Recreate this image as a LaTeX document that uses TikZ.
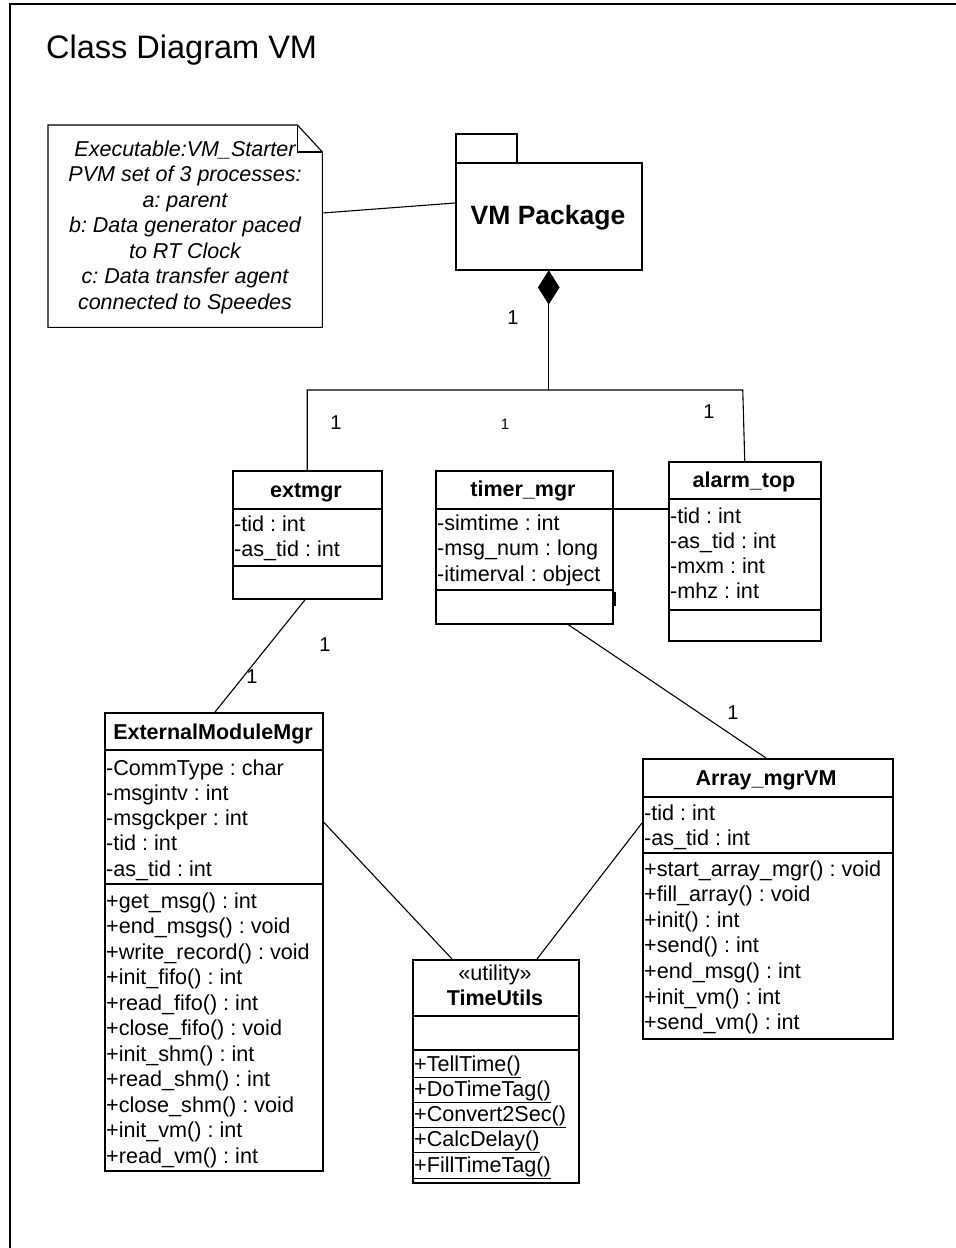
\documentclass[tikz,border=0pt]{standalone}
\usepackage{fontspec}
\setmainfont{Liberation Sans}
\usetikzlibrary{shapes.geometric,calc}
\frenchspacing

\tikzset{
  cls/.style={draw, line width=1.5pt, inner sep=0pt, anchor=north west},
  sep/.style={line width=1.3pt},
  ttl/.style={font=\fontsize{21.5}{24}\selectfont\bfseries, inner sep=0pt, anchor=base},
  mem/.style={font=\fontsize{21.6}{24}\selectfont, anchor=base west, inner sep=0pt},
  link/.style={line width=1.1pt},
  mult/.style={font=\fontsize{20}{22}\selectfont, inner sep=0pt},
}

% horizontal compartment rule inside a class box, #2 below its top edge
\newcommand\umlrule[2]{\draw[sep] ($(#1.north west)+(0,#2)$) -- ($(#1.north east)+(0,#2)$);}
% list of members: prefix, x, first baseline, line step, entries
\newcommand\umlmembers[5]{%
  \foreach \t [count=\i] in {#5}
    \node[mem] (#1-\i) at (#2, {#3+(\i-1)*#4}) {\t};}
% static operations are underlined
\newcommand\static[1]{\underline{#1}}

\begin{document}
\begin{tikzpicture}[x=1pt,y=-1pt]
\useasboundingbox (0,0) rectangle (956,1248);

% frame
\draw[line width=2pt] (10,1248) -- (10,4) -- (956,4);
\node[font=\fontsize{32.5}{36}\selectfont, anchor=base west, inner sep=0pt] (title) at (46,58) {Class Diagram VM};

% note
\node[inner sep=0pt, minimum width=274pt, minimum height=202pt, anchor=north west] (note) at (48,125) {};
\draw[line width=1.1pt] (note.north west) -- ($(note.north east)+(-25,0)$) -- ($(note.north east)+(0,27)$)
  -- (note.south east) -- (note.south west) -- cycle;
\draw[line width=1.1pt] ($(note.north east)+(-25,0)$) -- ($(note.north east)+(-25,27)$) -- ($(note.north east)+(0,27)$);
\node[align=center, inner sep=0pt, font=\fontsize{21.5}{25.5}\selectfont\itshape] (notetext) at (185,227)
  {Executable:VM\_Starter\\PVM set of 3 processes:\\a: parent\\b: Data generator paced\\to RT Clock\\c: Data transfer agent\\connected to Speedes};

% package
\node[cls, minimum width=61pt, minimum height=29pt] (pkgtab) at (455,133) {};
\node[cls, minimum width=186pt, minimum height=107pt] (pkg) at (455,162) {};
\node[font=\fontsize{26.5}{30}\selectfont\bfseries, inner sep=0pt, anchor=base] (pkgname) at (548,224) {VM Package};
\node[diamond, fill, draw, line width=0.8pt, minimum width=21pt, minimum height=33pt, inner sep=0pt, anchor=north] (dia) at (pkg.south) {};

% classes
\node[cls, minimum width=149pt, minimum height=128pt] (extmgr) at (232,470) {};
\umlrule{extmgr}{39}\umlrule{extmgr}{96}
\node[ttl] (extmgr-t) at (306,497) {extmgr};
\umlmembers{extmgr}{234}{531}{25.3}{{-tid : int},{-as\_tid : int}}

\node[cls, minimum width=177pt, minimum height=153pt] (timer) at (435,470) {};
\umlrule{timer}{39}\umlrule{timer}{120}
\node[ttl] (timer-t) at (523,496) {timer\_mgr};
\umlmembers{timer}{437}{530}{25.5}{{-simtime : int},{-msg\_num : long},{-itimerval : object}}
\draw[line width=2.6pt] ($(timer.north east)+(1,122)$) -- ($(timer.north east)+(1,136)$);

\node[cls, minimum width=152pt, minimum height=179pt] (alarm) at (668,461) {};
\umlrule{alarm}{38}\umlrule{alarm}{149}
\node[ttl] (alarm-t) at (744,487) {alarm\_top};
\umlmembers{alarm}{670}{523}{25.3}{{-tid : int},{-as\_tid : int},{-mxm : int},{-mhz : int}}

\node[cls, minimum width=218pt, minimum height=458pt] (emm) at (104,712) {};
\umlrule{emm}{38}\umlrule{emm}{172}
\node[ttl] (emm-t) at (213,739) {ExternalModuleMgr};
\umlmembers{emm a}{106}{775}{25.3}{{-CommType : char},{-msgintv : int},{-msgckper : int},{-tid : int},{-as\_tid : int}}
\umlmembers{emm o}{106}{908}{25.5}{{+get\_msg() : int},{+end\_msgs() : void},{+write\_record() : void},{+init\_fifo() : int},{+read\_fifo() : int},{+close\_fifo() : void},{+init\_shm() : int},{+read\_shm() : int},{+close\_shm() : void},{+init\_vm() : int},{+read\_vm() : int}}

\node[cls, minimum width=250pt, minimum height=280pt] (arr) at (642,758) {};
\umlrule{arr}{39}\umlrule{arr}{95}
\node[ttl] (arr-t) at (766,785) {Array\_mgrVM};
\umlmembers{arr a}{644}{820}{25.3}{{-tid : int},{-as\_tid : int}}
\umlmembers{arr o}{644}{876}{25.6}{{+start\_array\_mgr() : void},{+fill\_array() : void},{+init() : int},{+send() : int},{+end\_msg() : int},{+init\_vm() : int},{+send\_vm() : int}}

\node[cls, minimum width=166pt, minimum height=223pt] (tu) at (412,959) {};
\umlrule{tu}{57}\umlrule{tu}{91}
\node[mem, anchor=base] (tu-s) at (495,980) {«utility»};
\node[ttl] (tu-t) at (495,1005) {TimeUtils};
\umlmembers{tu}{414}{1071}{25.25}{{\static{+TellTime()}},{\static{+DoTimeTag()}},{\static{+Convert2Sec()}},{\static{+CalcDelay()}},{\static{+FillTimeTag()}}}

% connectors
\coordinate (bus) at (0,390);
\draw[link] ($(note.north east)+(0,88)$) -- ($(pkg.north west)+(0,41)$);
\draw[link] (dia.south) -- (dia.south |- bus);
\draw[link] (extmgr.north) -- (extmgr.north |- bus) -- ($(alarm.north |- bus)+(-2,0)$) -- (alarm.north);
\draw[link] ($(timer.north east)+(0,39)$) -- ($(alarm.north west)+(0,48)$);
\draw[link] ($(extmgr.south)+(-2,0)$) -- ($(emm.north west)+(111,0)$);
\draw[link] ($(timer.south west)+(133,0)$) -- ($(arr.north west)+(124,0)$);
\draw[link] ($(emm.north east)+(0,110)$) -- ($(tu.north west)+(40,0)$);
\draw[link] ($(arr.north west)+(0,65)$) -- ($(tu.north west)+(125,0)$);

% multiplicities
\node[mult] (m1) at (513,318) {1};
\node[mult] (m2) at (336,423) {1};
\node[mult, font=\fontsize{15}{17}\selectfont] (m3) at (505,424) {1};
\node[mult] (m4) at (709,412) {1};
\node[mult] (m5) at (325,645) {1};
\node[mult] (m6) at (252,677) {1};
\node[mult] (m7) at (733,713) {1};
\end{tikzpicture}
\end{document}
